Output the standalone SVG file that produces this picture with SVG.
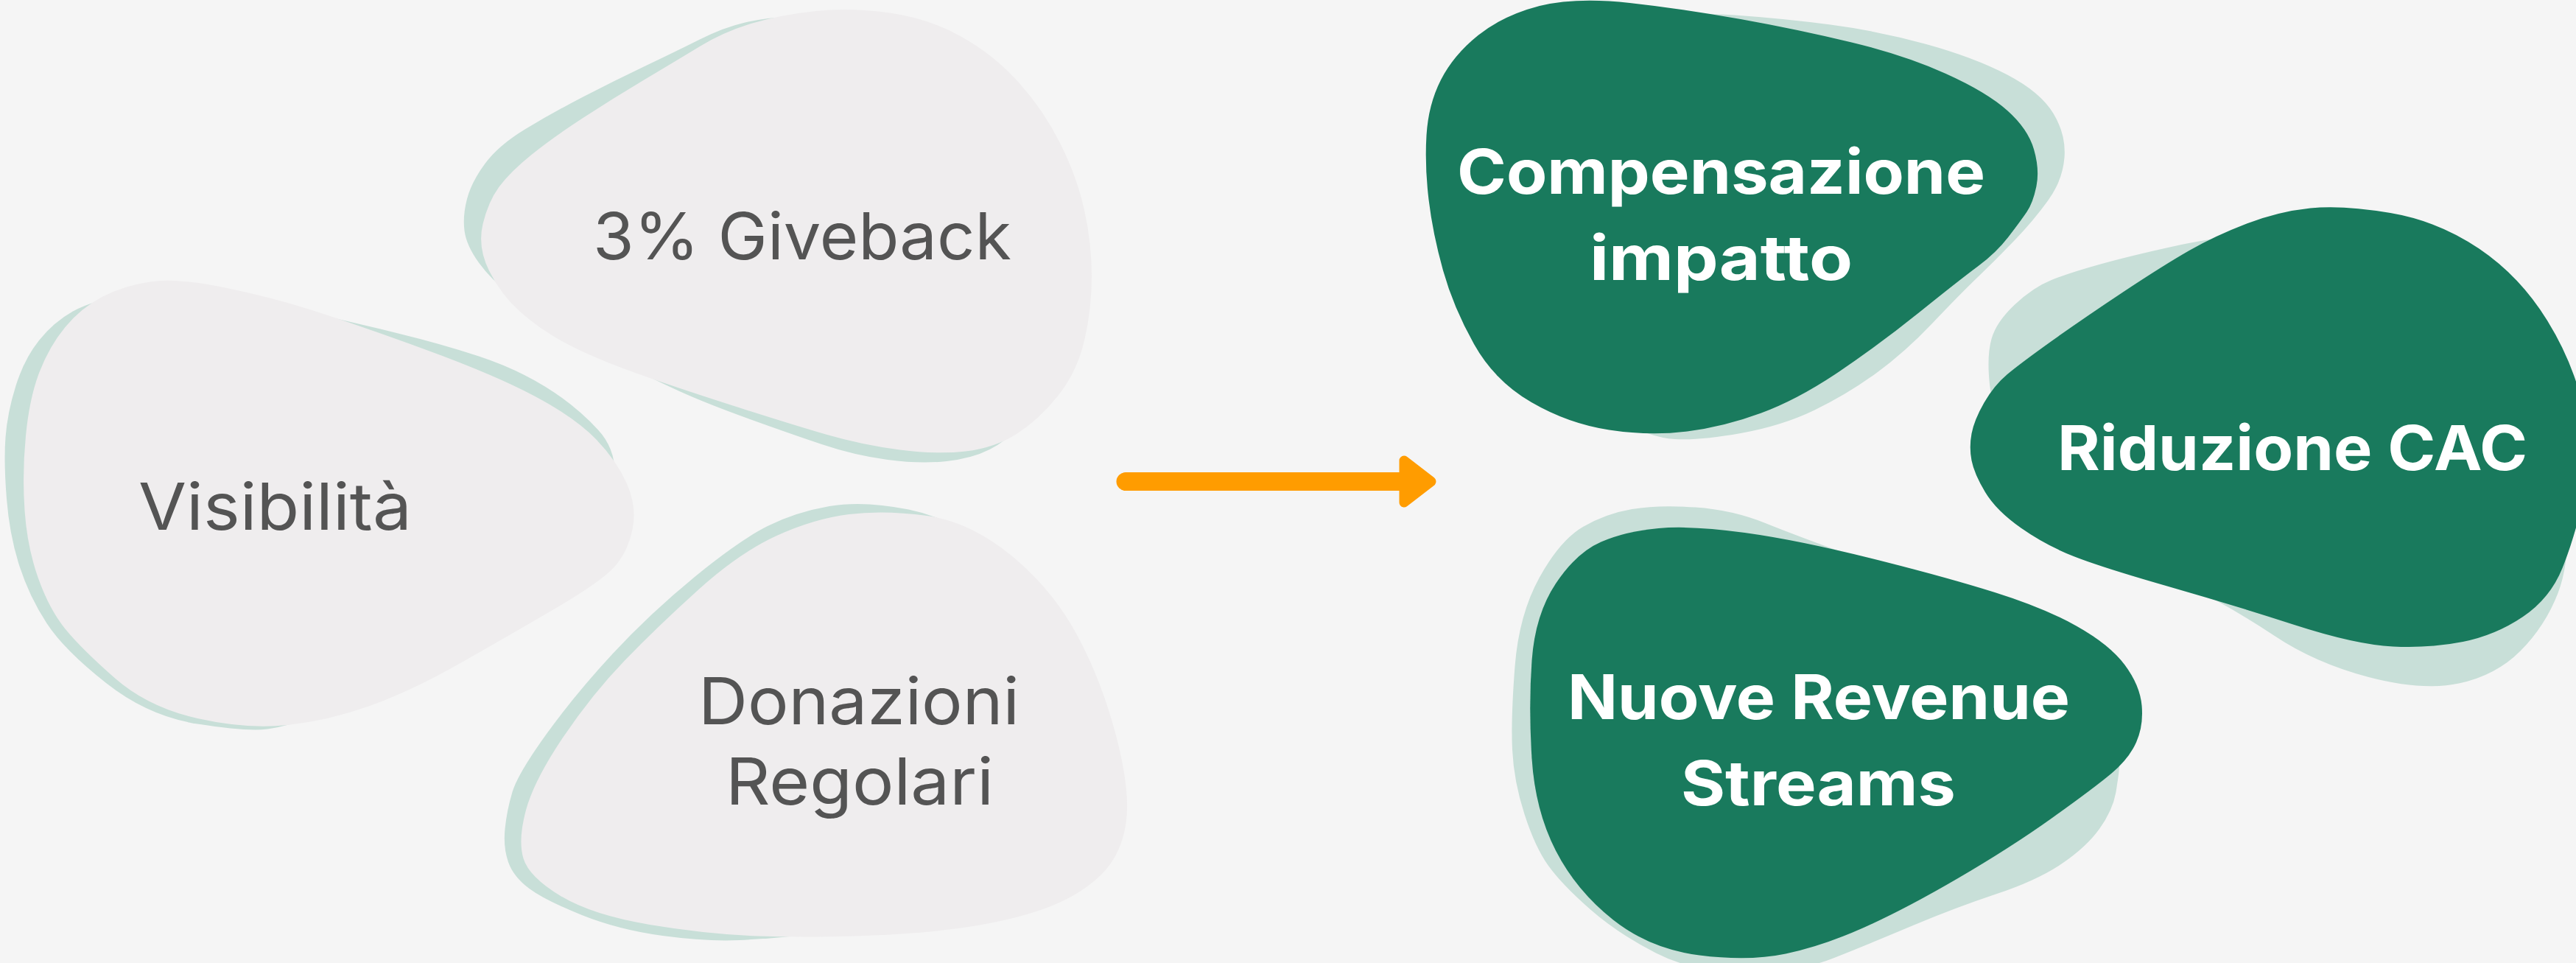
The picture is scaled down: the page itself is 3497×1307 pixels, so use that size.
<svg xmlns="http://www.w3.org/2000/svg" width="3497" height="1307" viewBox="0 0 3497 1307">
<style>
.bg{fill:#F5F5F5}
.shadow{fill:#C8DFD8}
.light{fill:#EFEDEE}
.dark{fill:#197A5D}
.lt{font-family:Inter,"Open Sans","Liberation Sans",sans-serif;font-size:88px;font-weight:400;fill:#545454}
.dt{font-family:Inter,"Open Sans","Liberation Sans",sans-serif;font-size:84px;font-weight:700;fill:#FFFFFF}
.conn{stroke:#FF9C00;fill:#FF9C00}
</style>
<rect class="bg" x="0" y="0" width="3497" height="1307"/>

<g id="node-giveback">
<path class="shadow" d="M1070,23 Q1100,22 1175,41 Q1250,60 1315,120 Q1380,180 1410,280 Q1440,380 1420,470 Q1400,560 1383.5,579 Q1367,598 1343.5,610 Q1320,622 1285,626 Q1250,630 1205,624 Q1160,618 1115.5,603 Q1071,588 1015.5,568 Q960,548 923.5,531.5 Q887,515 843.5,492.5 Q800,470 760,445 Q720,420 693.5,400 Q667,380 650,356.5 Q633,333 630.5,313 Q628,293 634,270 Q640,247 658.5,222 Q677,197 713.5,175 Q750,153 791.5,131.5 Q833,110 875,90 Q917,70 950,53.5 Q983,37 1011.5,30.5 Q1040,24 1070,23 Z"/>
<path class="light" d="M1107.5,15 Q1155,10 1208,17.5 Q1261,25 1305.5,50 Q1350,75 1383.5,112.5 Q1417,150 1439.5,195 Q1462,240 1472,285 Q1482,330 1482,375 Q1482,420 1472,462.5 Q1462,505 1436,537.5 Q1410,570 1380,589 Q1350,608 1311,612.5 Q1272,617 1221.5,610.5 Q1171,604 1121,589.5 Q1071,575 985.5,547.5 Q900,520 850,501.5 Q800,483 766.5,465 Q733,447 706.5,423.5 Q680,400 664,367.5 Q648,335 655.5,304 Q663,273 678,253 Q693,233 721.5,210 Q750,187 791.5,160 Q833,133 875,108 Q917,83 950,63 Q983,43 1021.5,31.5 Q1060,20 1107.5,15 Z"/>
<text class="lt" x="805" y="352" textLength="568" lengthAdjust="spacingAndGlyphs">3% Giveback</text>
</g>

<g id="node-visibilita">
<path class="shadow" d="M182.5,396.5 Q240,385 310,400 Q380,415 428.5,426 Q477,437 538.5,452 Q600,467 650,483.5 Q700,500 740.5,525 Q781,550 812,583.5 Q843,617 831.5,668.5 Q820,720 760,780 Q700,840 610,890 Q520,940 455.5,963 Q391,986 363,989.5 Q335,993 268,982.5 Q201,972 144,927 Q87,882 63.5,846 Q40,810 26.5,768.5 Q13,727 9,677 Q5,627 7.5,593.5 Q10,560 21.5,523.5 Q33,487 53,462 Q73,437 99,422.5 Q125,408 182.5,396.5 Z"/>
<path class="light" d="M203.5,382.5 Q240,377 303.5,390 Q367,403 422,420.5 Q477,438 573.5,473 Q670,508 725.5,537.5 Q781,567 809,596 Q837,625 851,656.5 Q865,688 858.5,719 Q852,750 833.5,770 Q815,790 753.5,826 Q692,862 625,900 Q558,938 502,958 Q446,978 390.5,984 Q335,990 268,975 Q201,960 155.5,920 Q110,880 88.5,853.5 Q67,827 52,785 Q37,743 33.5,693 Q30,643 35,591.5 Q40,540 53.5,505 Q67,470 88.5,444 Q110,418 138.5,403 Q167,388 203.5,382.5 Z"/>
<text class="lt" x="188" y="719" textLength="371" lengthAdjust="spacingAndGlyphs">Visibilità</text>
</g>

<g id="node-donazioni">
<path class="shadow" d="M1126,687 Q1172,679 1233.5,691.5 Q1295,704 1347.5,747 Q1400,790 1440,870 Q1480,950 1490,1025 Q1500,1100 1450,1160 Q1400,1220 1275,1241 Q1150,1262 1099,1268 Q1048,1274 1003.5,1276 Q959,1278 899.5,1270 Q840,1262 790,1242 Q740,1222 718.5,1206 Q697,1190 690,1170 Q683,1150 685.5,1125 Q688,1100 695.5,1075 Q703,1050 742,996 Q781,942 831.5,887.5 Q882,833 943,783 Q1004,733 1042,714 Q1080,695 1126,687 Z"/>
<path class="light" d="M1152.5,698 Q1200,692 1258.5,700 Q1317,708 1373,754 Q1429,800 1462.5,862.5 Q1496,925 1515.5,1000 Q1535,1075 1528.5,1117.5 Q1522,1160 1496,1186 Q1470,1212 1430,1228.5 Q1390,1245 1330,1255.5 Q1270,1266 1185,1269.5 Q1100,1273 1030,1270.5 Q960,1268 882,1255 Q804,1242 761,1216 Q718,1190 710.5,1165 Q703,1140 714,1099.5 Q725,1059 764.5,1000.5 Q804,942 848.5,896 Q893,850 948.5,800 Q1004,750 1054.5,727 Q1105,704 1152.5,698 Z"/>
<text class="lt" x="948" y="983" textLength="436" lengthAdjust="spacingAndGlyphs">Donazioni</text>
<text class="lt" x="985" y="1092" textLength="364" lengthAdjust="spacingAndGlyphs">Regolari</text>
</g>

<g id="node-compensazione">
<path class="shadow" d="M2195,28 Q2290,16 2355,20.5 Q2420,25 2485,33.5 Q2550,42 2615,60 Q2680,78 2725,101.5 Q2770,125 2787.5,154 Q2805,183 2802.5,214 Q2800,245 2780,272.5 Q2760,300 2735,326 Q2710,352 2685,376 Q2660,400 2623,439 Q2586,478 2547,506.5 Q2508,535 2463.5,556.5 Q2419,578 2363,588 Q2307,598 2273.5,596 Q2240,594 2195,569.5 Q2150,545 2075,472.5 Q2000,400 1990,300 Q1980,200 2040,120 Q2100,40 2195,28 Z"/>
<path class="dark" d="M2090,8 Q2140,-4 2212.5,4 Q2285,12 2363,26 Q2441,40 2513.5,57.5 Q2586,75 2641.5,100 Q2697,125 2725,150 Q2753,175 2761,202.5 Q2769,230 2764.5,252.5 Q2760,275 2751.5,287.5 Q2743,300 2726.5,321.5 Q2710,343 2685,361.5 Q2660,380 2606,423.5 Q2552,467 2496.5,504.5 Q2441,542 2391,560.5 Q2341,579 2290.5,585.5 Q2240,592 2184.5,583.5 Q2129,575 2079,546 Q2029,517 2001,467 Q1973,417 1959,367 Q1945,317 1939.5,271 Q1934,225 1936.5,183.5 Q1939,142 1956,108.5 Q1973,75 2006.5,48 Q2040,21 2090,8 Z"/>
<text class="dt" x="1978" y="263" textLength="717" lengthAdjust="spacingAndGlyphs">Compensazione</text>
<text class="dt" x="2158" y="380" textLength="357" lengthAdjust="spacingAndGlyphs">impatto</text>
</g>

<g id="node-riduzione">
<path class="shadow" d="M2950,334.5 Q3007,322 3103.5,311 Q3200,300 3300,350 Q3400,400 3440,500 Q3480,600 3485,680 Q3490,760 3472.5,805 Q3455,850 3421.5,883.5 Q3388,917 3338,927.5 Q3288,938 3215.5,919 Q3143,900 3087,862.5 Q3031,825 2965.5,792.5 Q2900,760 2830,720 Q2760,680 2732.5,620 Q2705,560 2701,521.5 Q2697,483 2703.5,460 Q2710,437 2735,413.5 Q2760,390 2785,380 Q2810,370 2851.5,358.5 Q2893,347 2950,334.5 Z"/>
<path class="dark" d="M3136.5,282.5 Q3180,278 3245,289 Q3310,300 3365.5,337.5 Q3421,375 3458,435 Q3495,495 3507.5,557.5 Q3520,620 3507.5,675 Q3495,730 3478.5,771 Q3462,812 3425,837 Q3388,862 3343.5,871 Q3299,880 3248.5,877.5 Q3198,875 3114.5,848 Q3031,821 2942,795.5 Q2853,770 2815,755 Q2777,740 2743.5,716.5 Q2710,693 2695,668 Q2680,643 2676.5,625 Q2673,607 2676.5,588.5 Q2680,570 2693.5,546.5 Q2707,523 2725,508 Q2743,493 2785,463 Q2827,433 2882,396.5 Q2937,360 2972,340 Q3007,320 3050,303.5 Q3093,287 3136.5,282.5 Z"/>
<text class="dt" x="2793" y="638" textLength="638" lengthAdjust="spacingAndGlyphs">Riduzione CAC</text>
</g>

<g id="node-nuove">
<path class="shadow" d="M2215.5,691 Q2251,685 2301.5,688.5 Q2352,692 2396.5,710 Q2441,728 2540.5,764 Q2640,800 2750,850 Q2860,900 2870,950 Q2880,1000 2878.5,1025 Q2877,1050 2872.5,1075 Q2868,1100 2850,1125 Q2832,1150 2798.5,1172.5 Q2765,1195 2709.5,1213.5 Q2654,1232 2597,1256 Q2540,1280 2490,1300 Q2440,1320 2370,1320 Q2300,1320 2248,1293.5 Q2196,1267 2158,1233.5 Q2120,1200 2102,1175 Q2084,1150 2069.5,1105 Q2055,1060 2053,1017.5 Q2051,975 2056.5,904.5 Q2062,834 2090,783.5 Q2118,733 2149,715 Q2180,697 2215.5,691 Z"/>
<path class="dark" d="M2251.5,717 Q2296,713 2368.5,723 Q2441,733 2541,758 Q2641,783 2708,804 Q2775,825 2819.5,850 Q2864,875 2884.5,902.5 Q2905,930 2907.5,957.5 Q2910,985 2900,1007.5 Q2890,1030 2866,1050 Q2842,1070 2786,1110 Q2730,1150 2658,1192 Q2586,1234 2530,1259 Q2474,1284 2424,1294.5 Q2374,1305 2307,1296.5 Q2240,1288 2190,1248.5 Q2140,1209 2112,1154.5 Q2084,1100 2079.5,1029.5 Q2075,959 2079.5,896.5 Q2084,834 2112,792 Q2140,750 2173.5,735.5 Q2207,721 2251.5,717 Z"/>
<text class="dt" x="2128" y="976" textLength="682" lengthAdjust="spacingAndGlyphs">Nuove Revenue</text>
<text class="dt" x="2282" y="1093" textLength="373" lengthAdjust="spacingAndGlyphs">Streams</text>
</g>

<g id="connectors">
<line class="conn" x1="1528" y1="653.5" x2="1910" y2="653.5" stroke-width="25" stroke-linecap="round"/>
<polygon class="conn" points="1906,625 1943,653.5 1906,682" stroke-width="13" stroke-linejoin="round"/>
</g>
</svg>
